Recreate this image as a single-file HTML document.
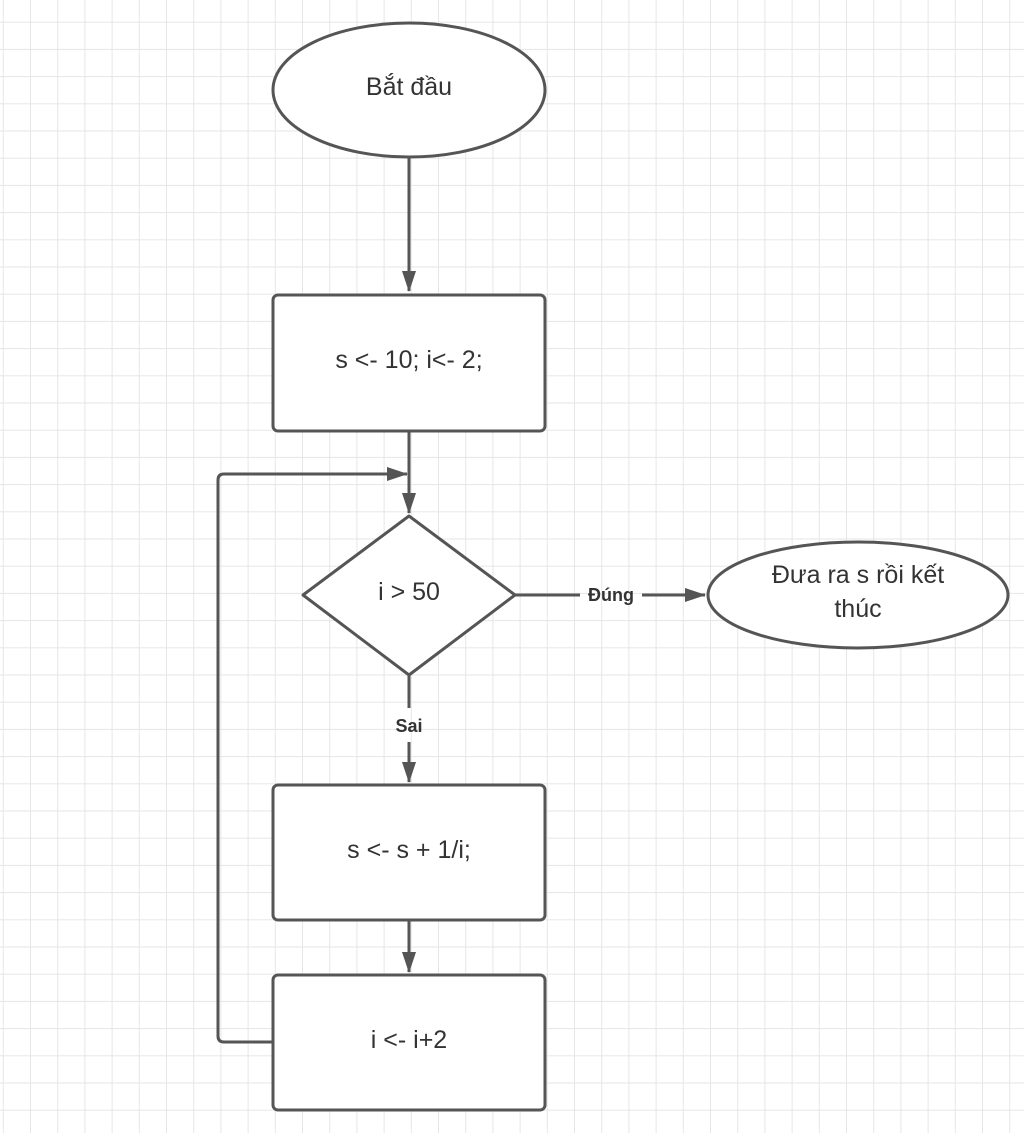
<!DOCTYPE html>
<html><head><meta charset="utf-8"><style>
html,body{margin:0;padding:0;background:#fff}
svg{display:block}
text{font-family:"Liberation Sans",sans-serif;fill:#333}
</style></head><body>
<svg width="1024" height="1133" viewBox="0 0 1024 1133" xmlns="http://www.w3.org/2000/svg">
<defs>
<pattern id="g" x="2.8" y="-5.5" width="27.2" height="27.2" patternUnits="userSpaceOnUse">
<path d="M0 0V27.2M0 0H27.2" stroke="#e6e6e6" stroke-width="2" fill="none"/>
</pattern>
<marker id="a" markerWidth="22" markerHeight="16" refX="20" refY="8" orient="auto" markerUnits="userSpaceOnUse" viewBox="0 0 22 16">
<path d="M0 1L21 8L0 15z" fill="#555"/>
</marker>
</defs>
<rect width="1024" height="1133" fill="#fff"/>
<rect width="1024" height="1133" fill="url(#g)"/>
<g stroke="#555" stroke-width="3" fill="#fff">
<ellipse cx="409" cy="90" rx="136" ry="67"/>
<rect x="273" y="295" width="272" height="136" rx="5"/>
<path d="M409 516L515 595L409 675L303 595Z" stroke-linejoin="round"/>
<ellipse cx="858" cy="595" rx="150" ry="53"/>
<rect x="273" y="785" width="272" height="135" rx="5"/>
<rect x="273" y="975" width="272" height="135" rx="5"/>
</g>
<g stroke="#555" stroke-width="3" fill="none">
<line x1="409" y1="158" x2="409" y2="291" marker-end="url(#a)"/>
<line x1="409" y1="431" x2="409" y2="513" marker-end="url(#a)"/>
<line x1="409" y1="675" x2="409" y2="708"/>
<line x1="409" y1="742" x2="409" y2="782" marker-end="url(#a)"/>
<line x1="409" y1="920" x2="409" y2="972" marker-end="url(#a)"/>
<line x1="515" y1="595" x2="580" y2="595"/>
<line x1="642" y1="595" x2="705" y2="595" marker-end="url(#a)"/>
<path d="M273 1042H224Q218 1042 218 1036V480Q218 474 224 474H407" marker-end="url(#a)"/>
</g>
<g font-size="25" text-anchor="middle">
<text x="409" y="95">Bắt đầu</text>
<text x="409" y="368">s &lt;- 10; i&lt;- 2;</text>
<text x="409" y="600">i &gt; 50</text>
<text x="858" y="583">Đưa ra s rồi kết</text>
<text x="858" y="617">thúc</text>
<text x="409" y="858">s &lt;- s + 1/i;</text>
<text x="409" y="1048">i &lt;- i+2</text>
</g>
<g font-size="18" font-weight="bold" text-anchor="middle">
<text x="611" y="601">Đúng</text>
<text x="409" y="732">Sai</text>
</g>
</svg>
</body></html>
